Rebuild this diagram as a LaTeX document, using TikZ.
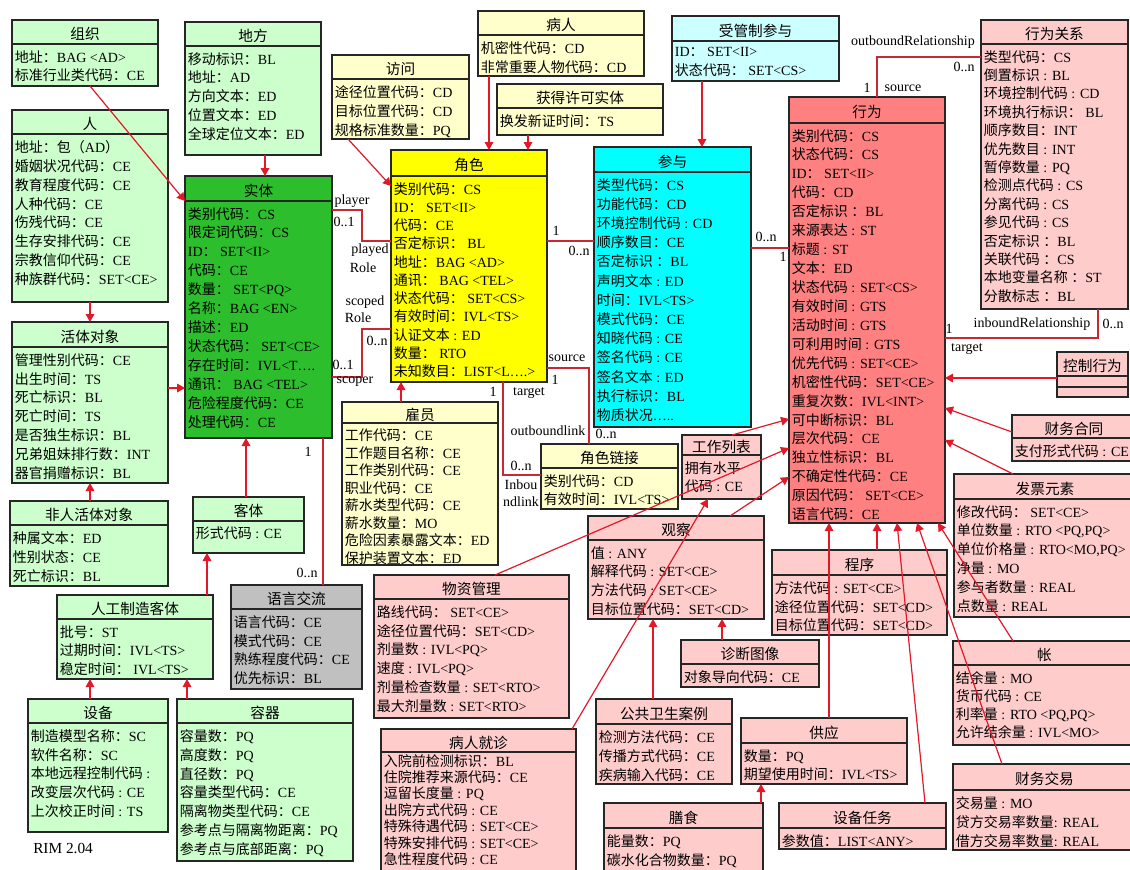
\documentclass[tikz,border=0pt]{standalone}
\usepackage{fontspec}
\setmainfont{Liberation Serif}
\newfontfamily\cjkfont{Noto Sans CJK SC}
\usetikzlibrary{positioning, fit, arrows.meta}

% CJK characters switch to the CJK family, everything else stays serif
\newcount\cjkcnt
\newXeTeXintercharclass\cjkclass
\NewDocumentCommand{\setcjkrange}{m m}{\cjkcnt=#1 \loop\XeTeXcharclass\cjkcnt=\cjkclass\ifnum\cjkcnt<#2 \advance\cjkcnt by 1 \repeat}
\setcjkrange{"3000}{"303F}
\setcjkrange{"4E00}{"9FFF}
\setcjkrange{"FF00}{"FFEF}
\XeTeXinterchartoks 0 \cjkclass = {\cjkfont}
\XeTeXinterchartoks 4095 \cjkclass = {\cjkfont}
\XeTeXinterchartoks \cjkclass 0 = {\rmfamily}
\XeTeXinterchartoks \cjkclass 4095 = {\rmfamily}
\XeTeXinterchartokenstate=1

\definecolor{lgreen}{RGB}{204,255,204}
\definecolor{dgreen}{RGB}{45,190,45}
\definecolor{lyellow}{RGB}{255,255,204}
\definecolor{pyellow}{RGB}{255,255,0}
\definecolor{pcyan}{RGB}{0,255,255}
\definecolor{lcyan}{RGB}{204,255,255}
\definecolor{actred}{RGB}{255,128,128}
\definecolor{lpink}{RGB}{255,204,204}
\definecolor{lgray}{RGB}{192,192,192}
\definecolor{linered}{RGB}{225,25,40}
\definecolor{assocred}{RGB}{200,40,50}

\tikzset{
  classbox/.style={draw=black!85, line width=0.8pt, inner sep=0pt, outer sep=0pt},
  classline/.style={draw=black!85, line width=0.8pt},
  classtitle/.style={font=\fontsize{11}{13}\selectfont, inner sep=0pt},
  classattr/.style={font=\fontsize{10.5}{14.2}\selectfont, align=left,
                    inner xsep=2pt, inner ysep=0pt, anchor=north west},
  rows/.style={font=\fontsize{10.5}{#1}\selectfont},
  gen/.style={draw=linered, line width=0.9pt, -{Triangle[length=6pt,width=6.5pt]}},
  assoc/.style={draw=assocred, line width=0.8pt},
  lbl/.style={font=\fontsize{10.5}{12}\selectfont, inner sep=0pt}
}

% [title height][attribute options]{name}{fill}{corner}{corner}{title}{attributes}
\NewDocumentCommand{\umlclass}{O{24} O{} m m m m m m}{%
  \node[classbox, fill=#4, fit={#5 #6}] (#3) {};
  \node[classtitle] (#3-title) at ([yshift=-#1*0.375pt-1.5pt]#3.north) {#7};
  \draw[classline] ([yshift=-#1*0.75pt]#3.north west) -- ([yshift=-#1*0.75pt]#3.north east);
  \node[classattr, #2] (#3-attr) at ([yshift=-#1*0.75pt-4.5pt]#3.north west) {#8};
}

\begin{document}
\begin{tikzpicture}[x=0.75pt, y=-0.75pt]
  \useasboundingbox (0,0) rectangle (1130,869);
  \clip (0,0) rectangle (1130,869);

  % entity side
  \umlclass{org}{lgreen}{(12,20)}{(158,86)}{组织}{地址：BAG <AD> \\ 标准行业类代码：CE}
  \umlclass{place}{lgreen}{(185,22)}{(321,155)}{地方}{移动标识：BL \\ 地址：AD \\ 方向文本：ED \\ 位置文本：ED \\ 全球定位文本：ED}
  \umlclass{person}{lgreen}{(12,110)}{(168,302)}{人}{地址：包（AD） \\ 婚姻状况代码：CE \\ 教育程度代码：CE \\ 人种代码：CE \\ 伤残代码：CE \\ 生存安排代码：CE \\ 宗教信仰代码：CE \\ 种族群代码：SET<CE>}
  \umlclass[25]{entity}{dgreen}{(185,176)}{(332,438)}{实体}{类别代码：CS \\ 限定词代码：CS \\ ID： SET<II> \\ 代码：CE \\ 数量： SET<PQ> \\ 名称：BAG <EN> \\ 描述：ED \\ 状态代码： SET<CE> \\ 存在时间：IVL<T…. \\ 通讯： BAG <TEL> \\ 危险程度代码：CE \\ 处理代码：CE}
  \umlclass[25]{living}{lgreen}{(12,322)}{(168,483)}{活体对象}{管理性别代码：CE \\ 出生时间：TS \\ 死亡标识：BL \\ 死亡时间：TS \\ 是否独生标识：BL \\ 兄弟姐妹排行数：INT \\ 器官捐赠标识：BL}
  \umlclass{nonperson}{lgreen}{(10,501)}{(168,586)}{非人活体对象}{种属文本：ED \\ 性别状态：CE \\ 死亡标识：BL}
  \umlclass{material}{lgreen}{(193,497)}{(304,553)}{客体}{形式代码 : CE}
  \umlclass{manmade}{lgreen}{(57,595)}{(213,679)}{人工制造客体}{批号：ST \\ 过期时间：IVL<TS> \\ 稳定时间： IVL<TS>}
  \umlclass{langcomm}{lgray}{(231,585)}{(362,689)}{语言交流}{语言代码：CE \\ 模式代码：CE \\ 熟练程度代码：CE \\ 优先标识：BL}
  \umlclass{device}{lgreen}{(28,699)}{(168,832)}{设备}{制造模型名称：SC \\ 软件名称：SC \\ 本地远程控制代码 : \\ 改变层次代码 : CE \\ 上次校正时间 : TS}
  \umlclass{container}{lgreen}{(177,699)}{(353,861)}{容器}{容量数：PQ \\ 高度数：PQ \\ 直径数：PQ \\ 容量类型代码：CE \\ 隔离物类型代码：CE \\ 参考点与隔离物距离：PQ \\ 参考点与底部距离：PQ}

  % role and participation
  \umlclass{access}{lyellow}{(332,55)}{(469,139)}{访问}{途径位置代码：CD \\ 目标位置代码：CD \\ 规格标准数量：PQ}
  \umlclass{patient}{lyellow}{(478,11)}{(644,76)}{病人}{机密性代码：CD \\ 非常重要人物代码：CD}
  \umlclass{licensed}{lyellow}{(497,84)}{(663,135)}{获得许可实体}{换发新证时间：TS}
  \umlclass[25]{managedpart}{lcyan}{(672,16)}{(839,81)}{受管制参与}{ID： SET<II> \\ 状态代码： SET<CS>}
  \umlclass[26][rows=13.7pt]{role}{pyellow}{(391,150)}{(547,382)}{角色}{类别代码：CS \\ ID： SET<II> \\ 代码：CE \\ 否定标识： BL \\ 地址：BAG <AD> \\ 通讯： BAG <TEL> \\ 状态代码： SET<CS> \\ 有效时间：IVL<TS> \\ 认证文本 : ED \\ 数量： RTO \\ 未知数目：LIST<L….>}
  \umlclass[25][rows=14.4pt]{particip}{pcyan}{(594,147)}{(751,427)}{参与}{类型代码：CS \\ 功能代码：CD \\ 环境控制代码 : CD \\ 顺序数目：CE \\ 否定标识 ：BL \\ 声明文本 : ED \\ 时间：IVL<TS> \\ 模式代码：CE \\ 知晓代码 : CE \\ 签名代码 : CE \\ 签名文本 : ED \\ 执行标识：BL \\ 物质状况…..}
  \umlclass[21][rows=13.1pt]{employee}{lyellow}{(342,402)}{(498,565)}{雇员}{工作代码：CE \\ 工作题目名称：CE \\ 工作类别代码：CE \\ 职业代码：CE \\ 薪水类型代码：CE \\ 薪水数量：MO \\ 危险因素暴露文本：ED \\ 保护装置文本：ED}
  \umlclass{rolelink}{lyellow}{(541,444)}{(678,509)}{角色链接}{类别代码：CD \\ 有效时间：IVL<TS>}

  % act side
  \umlclass[26]{act}{actred}{(789,97)}{(945,523)}{行为}{类别代码：CS \\ 状态代码：CS \\ ID： SET<II> \\ 代码：CD \\ 否定标识 ：BL \\ 来源表达 : ST \\ 标题 : ST \\ 文本：ED \\ 状态代码 : SET<CS> \\ 有效时间 : GTS \\ 活动时间 : GTS \\ 可利用时间 : GTS \\ 优先代码 : SET<CE> \\ 机密性代码：SET<CE> \\ 重复次数：IVL<INT> \\ 可中断标识：BL \\ 层次代码：CE \\ 独立性标识：BL \\ 不确定性代码：CE \\ 原因代码： SET<CE> \\ 语言代码：CE}
  \umlclass[24][rows=13.8pt]{actrel}{lpink}{(981,20)}{(1128,309)}{行为关系}{类型代码：CS \\ 倒置标识 : BL \\ 环境控制代码 : CD \\ 环境执行标识： BL \\ 顺序数目：INT \\ 优先数目 : INT \\ 暂停数量 : PQ \\ 检测点代码 : CS \\ 分离代码 : CS \\ 参见代码 : CS \\ 否定标识 ：BL \\ 关联代码 ：CS \\ 本地变量名称 ：ST \\ 分散标志 ：BL}
  \umlclass{controlact}{lpink}{(1057,352)}{(1128,397)}{控制行为}{}
  \draw[classline] (controlact.west |- 0,387) -- (controlact.east |- 0,387);
  \umlclass[23]{fincontract}{lpink}{(1012,415)}{(1136,461)}{财务合同}{支付形式代码 : CE}
  \umlclass[25]{invoice}{lpink}{(954,474)}{(1136,617)}{发票元素}{修改代码： SET<CE> \\ 单位数量 : RTO <PQ,PQ> \\ 单位价格量 : RTO<MO,PQ> \\ 净量 : MO \\ 参与者数量 : REAL \\ 点数量 : REAL}
  \umlclass[24][rows=13.7pt]{account}{lpink}{(953,641)}{(1136,745)}{帐}{结余量 : MO \\ 货币代码 : CE \\ 利率量 : RTO <PQ,PQ> \\ 允许结余量 : IVL<MO>}
  \umlclass[26]{fintrans}{lpink}{(953,764)}{(1136,850)}{财务交易}{交易量 : MO \\ 贷方交易率数量: REAL \\ 借方交易率数量: REAL}
  \umlclass[25]{procedure}{lpink}{(772,550)}{(947,635)}{程序}{方法代码 : SET<CE> \\ 途径位置代码：SET<CD> \\ 目标位置代码：SET<CD>}
  \umlclass[25]{supply}{lpink}{(741,718)}{(907,784)}{供应}{数量：PQ \\ 期望使用时间：IVL<TS>}
  \umlclass[25]{devicetask}{lpink}{(779,803)}{(946,849)}{设备任务}{参数值：LIST<ANY>}
  \umlclass[25]{diet}{lpink}{(604,803)}{(763,875)}{膳食}{能量数：PQ \\ 碳水化合物数量：PQ}
  \umlclass[25]{phcase}{lpink}{(596,699)}{(732,784)}{公共卫生案例}{检测方法代码：CE \\ 传播方式代码：CE \\ 疾病输入代码：CE}
  \umlclass{diagimage}{lpink}{(681,640)}{(819,687)}{诊断图像}{对象导向代码：CE}
  \umlclass{observation}{lpink}{(588,516)}{(764,619)}{观察}{值 : ANY \\ 解释代码 : SET<CE> \\ 方法代码 : SET<CE> \\ 目标位置代码：SET<CD>}
  \umlclass[20][rows=14pt]{worklist}{lpink}{(682,435)}{(761,499)}{工作列表}{拥有水平 \\ 代码 : CE}
  \umlclass{substadmin}{lpink}{(374,575)}{(569,718)}{物资管理}{路线代码： SET<CE> \\ 途径位置代码：SET<CD> \\ 剂量数 : IVL<PQ> \\ 速度 : IVL<PQ> \\ 剂量检查数量 : SET<RTO> \\ 最大剂量数 : SET<RTO>}
  \umlclass[23][rows=12.3pt, yshift=3pt]{encounter}{lpink}{(381,729)}{(576,875)}{病人就诊}{入院前检测标识：BL \\ 住院推荐来源代码：CE \\ 逗留长度量 : PQ \\ 出院方式代码 : CE \\ 特殊待遇代码 : SET<CE> \\ 特殊安排代码 : SET<CE> \\ 急性程度代码 : CE}

  \node[lbl, anchor=west] (rimlbl) at (33,848) {\fontsize{11.5}{13}\selectfont RIM 2.04};

  % generalizations
  \draw[gen] (90,0 |- org.south) -- (entity.west |- 0,201);
  \draw[gen] (265,0 |- place.south) -- (265,0 |- entity.north);
  \draw[gen] (90,0 |- person.south) -- (90,0 |- living.north);
  \draw[gen] (living.east |- 0,388) -- (entity.west |- 0,388);
  \draw[gen] (90,0 |- nonperson.north) -- (90,0 |- living.south);
  \draw[gen] (246,0 |- material.north) -- (246,0 |- entity.south);
  \draw[gen] (207,0 |- manmade.north) -- (207,0 |- material.south);
  \draw[gen] (90,0 |- device.north) -- (90,0 |- manmade.south);
  \draw[gen] (187,0 |- container.north) -- (187,0 |- manmade.south);
  \draw[gen] (348,0 |- access.south) -- (role.west |- 0,186);
  \draw[gen] (489,0 |- patient.south) -- (489,0 |- role.north);
  \draw[gen] (528,0 |- licensed.south) -- (528,0 |- role.north);
  \draw[gen] (401,0 |- employee.north) -- (401,0 |- role.south);
  \draw[gen] (702,0 |- managedpart.south) -- (702,0 |- particip.north);
  \draw[gen] (732,0 |- worklist.north) -- (act.west |- 0,419);
  \draw[gen] (495,0 |- substadmin.north) -- (act.west |- 0,448);
  \draw[gen] (730,0 |- observation.north) -- (act.west |- 0,477);
  \draw[gen] (572,0 |- encounter.north) -- (708,0 |- worklist.south);
  \draw[gen] (653,0 |- phcase.north) -- (653,0 |- observation.south);
  \draw[gen] (722,0 |- diagimage.north) -- (722,0 |- observation.south);
  \draw[gen] (controlact.west |- 0,378) -- (act.east |- 0,378);
  \draw[gen] (fincontract.west |- 0,432) -- (act.east |- 0,408);
  \draw[gen] (1013,0 |- invoice.north) -- (act.east |- 0,440);
  \draw[gen] (829,0 |- supply.north) -- (829,0 |- act.south);
  \draw[gen] (877,0 |- procedure.north) -- (877,0 |- act.south);
  \draw[gen] (925,0 |- devicetask.north) -- (897,0 |- act.south);
  \draw[gen] (1002,0 |- fintrans.north) -- (917,0 |- act.south);
  \draw[gen] (1013,0 |- account.north) -- (938,0 |- act.south);
  \draw[gen] (761,0 |- diet.north) -- (761,0 |- supply.south);

  % associations
  \draw[assoc] (entity.east |- 0,210) -- (362,210) -- (362,241) -- (role.west |- 0,241);
  \draw[assoc] (entity.east |- 0,377) -- (362,377) -- (362,329) -- (role.west |- 0,329);
  \draw[assoc] (role.east |- 0,241) -- (particip.west |- 0,241);
  \draw[assoc] (particip.east |- 0,248) -- (act.west |- 0,248);
  \draw[assoc] (503,0 |- role.south) -- (503,475) -- (rolelink.west |- 0,475);
  \draw[assoc] (role.east |- 0,368) -- (589,368) -- (589,0 |- rolelink.north);
  \draw[assoc] (323,0 |- entity.south) -- (323,0 |- langcomm.north);
  \draw[assoc] (877,0 |- act.north) -- (877,57) -- (actrel.west |- 0,57);
  \draw[assoc] (act.east |- 0,338) -- (1098,338) -- (1098,0 |- actrel.south);

  % association labels
  \node[lbl] (playerlbl) at (352,201) {player};
  \node[lbl] (playermult) at (344,222) {0..1};
  \node[lbl] (playedlbl) at (370,250) {played};
  \node[lbl] (playedrole) at (363,268) {Role};
  \node[lbl] (scopedlbl) at (365,302) {scoped};
  \node[lbl] (scopedrole) at (358,318) {Role};
  \node[lbl] (scopedmult) at (377,341) {0..n};
  \node[lbl] (scopermult) at (343,365) {0..1};
  \node[lbl] (scoperlbl) at (355,382) {scoper};
  \node[lbl] (roleone) at (556,231) {1};
  \node[lbl] (participmult) at (579,251) {0..n};
  \node[lbl] (participact) at (766,237) {0..n};
  \node[lbl] (actone) at (783,257) {1};
  \node[lbl] (targetone) at (493,392) {1};
  \node[lbl] (targetlbl) at (529,393) {target};
  \node[lbl] (inboundmult) at (521,466) {0..n};
  \node[lbl] (inboundlbl) at (521,485) {Inbou};
  \node[lbl] (inboundlbltwo) at (521,502) {ndlink};
  \node[lbl] (sourcelbl) at (567,358) {source};
  \node[lbl] (sourceone) at (555,380) {1};
  \node[lbl] (outboundlbl) at (548,431) {outboundlink};
  \node[lbl] (outboundmult) at (606,434) {0..n};
  \node[lbl] (langone) at (308,452) {1};
  \node[lbl] (langmult) at (307,573) {0..n};
  \node[lbl] (outrellbl) at (913,42) {outboundRelationship};
  \node[lbl] (outrelmult) at (964,67) {0..n};
  \node[lbl] (actsourceone) at (867,88) {1};
  \node[lbl] (actsourcelbl) at (903,88) {source};
  \node[lbl] (inrelone) at (949,329) {1};
  \node[lbl] (inrellbl) at (1032,324) {inboundRelationship};
  \node[lbl] (inrelmult) at (1113,324) {0..n};
  \node[lbl] (acttargetlbl) at (967,349) {target};
\end{tikzpicture}
\end{document}
